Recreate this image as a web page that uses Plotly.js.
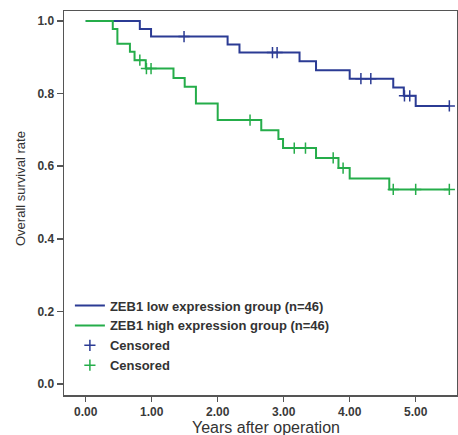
<!DOCTYPE html>
<html>
<head>
<meta charset="utf-8">
<script src="https://cdn.plot.ly/plotly-3.0.1.min.js"></script>
<style>html,body{margin:0;padding:0;background:#fff;}#chart{width:458px;height:435px;}</style>
</head>
<body>
<div id="chart"></div>
<script>
// Low-expression group (blue)
const lowEventTimes = [0.82, 0.99, 2.15, 2.33, 3.24, 3.49, 4.00, 4.66, 4.82, 5.00];
const lowSurvival   = [0.978, 0.957, 0.935, 0.913, 0.889, 0.864, 0.841, 0.817, 0.794, 0.766];
const lowCensorTimes = [1.49, 2.83, 2.90, 4.17, 4.32, 4.83, 4.91, 5.51];
// High-expression group (green)
const highEventTimes = [0.41, 0.48, 0.67, 0.74, 0.91, 1.33, 1.50, 1.67, 2.00, 2.66, 2.92, 2.99, 3.49, 3.83, 4.00, 4.60];
const highSurvival   = [0.978, 0.937, 0.915, 0.892, 0.869, 0.843, 0.819, 0.773, 0.727, 0.699, 0.675, 0.650, 0.623, 0.595, 0.566, 0.536];
const highCensorTimes = [0.82, 0.92, 0.99, 2.49, 3.16, 3.33, 3.75, 3.90, 4.66, 5.00, 5.51];
const followUpEnd = 5.51;
const xTickVals = [0, 1, 2, 3, 4, 5];
const xTickText = ["0.00", "1.00", "2.00", "3.00", "4.00", "5.00"];
const yTickVals = [0, 0.2, 0.4, 0.6, 0.8, 1.0];
const yTickText = ["0.0", "0.2", "0.4", "0.6", "0.8", "1.0"];
const names = ["ZEB1 low expression group (n=46)", "ZEB1 high expression group (n=46)", "Censored", "Censored"];
const xTitle = "Years after operation";
const yTitle = "Overall survival rate";

const blue = "#2b3b94", green = "#25ad4a";
const fam = "Liberation Sans, Arial, sans-serif";

function stepX(times){ return [0].concat(times, [followUpEnd]); }
function stepY(surv){ return [1].concat(surv, [surv[surv.length-1]]); }
function survAt(times, surv, t){
  let s = 1;
  for (let i = 0; i < times.length; i++) if (times[i] <= t + 1e-9) s = surv[i];
  return s;
}

const traces = [
  {x: stepX(lowEventTimes), y: stepY(lowSurvival), type: "scatter", mode: "lines",
   line: {shape: "hv", color: blue, width: 2}, name: names[0]},
  {x: stepX(highEventTimes), y: stepY(highSurvival), type: "scatter", mode: "lines",
   line: {shape: "hv", color: green, width: 2}, name: names[1]},
  {x: lowCensorTimes, y: lowCensorTimes.map(t => survAt(lowEventTimes, lowSurvival, t)),
   type: "scatter", mode: "markers", name: names[2],
   marker: {symbol: "cross-thin", size: 8, line: {color: blue, width: 1.5}, color: blue}},
  {x: highCensorTimes, y: highCensorTimes.map(t => survAt(highEventTimes, highSurvival, t)),
   type: "scatter", mode: "markers", name: names[3],
   marker: {symbol: "cross-thin", size: 8, line: {color: green, width: 1.5}, color: green}}
];

const tickFont = {family: fam, size: 12, color: "#3a3a3a", weight: "bold"};
const layout = {
  width: 458, height: 435,
  margin: {l: 64, r: 1, t: 11, b: 40},
  paper_bgcolor: "#fff", plot_bgcolor: "#fff",
  showlegend: true,
  legend: {x: 0.015, y: 0.272, xanchor: "left", yanchor: "top", bgcolor: "rgba(0,0,0,0)",
           font: {family: fam, size: 13, color: "#333", weight: "bold"},
           tracegroupgap: 0, itemwidth: 30},
  xaxis: {range: [-0.329, 5.626], tickvals: xTickVals, ticktext: xTickText,
          showgrid: false, zeroline: false, showline: true, linecolor: "#555", linewidth: 1.5,
          mirror: true, ticks: "outside", ticklen: 5, tickwidth: 1.5, tickcolor: "#555",
          tickfont: tickFont},
  yaxis: {range: [-0.03, 1.0275], tickvals: yTickVals, ticktext: yTickText,
          showgrid: false, zeroline: false, showline: true, linecolor: "#555", linewidth: 1.5,
          mirror: true, ticks: "outside", ticklen: 6, tickwidth: 1.5, tickcolor: "#555",
          tickfont: tickFont},
  annotations: [
    {text: xTitle, xref: "paper", yref: "paper", x: 0.514, y: -0.058, xanchor: "center", yanchor: "top",
     showarrow: false, font: {family: fam, size: 16, color: "#333"}},
    {text: yTitle, xref: "paper", yref: "paper", x: -0.112, y: 0.539, xanchor: "center", yanchor: "middle",
     textangle: -90, showarrow: false, font: {family: fam, size: 13, color: "#333"}}
  ]
};

Plotly.newPlot("chart", traces, layout, {displayModeBar: false, staticPlot: true});
</script>
</body>
</html>
